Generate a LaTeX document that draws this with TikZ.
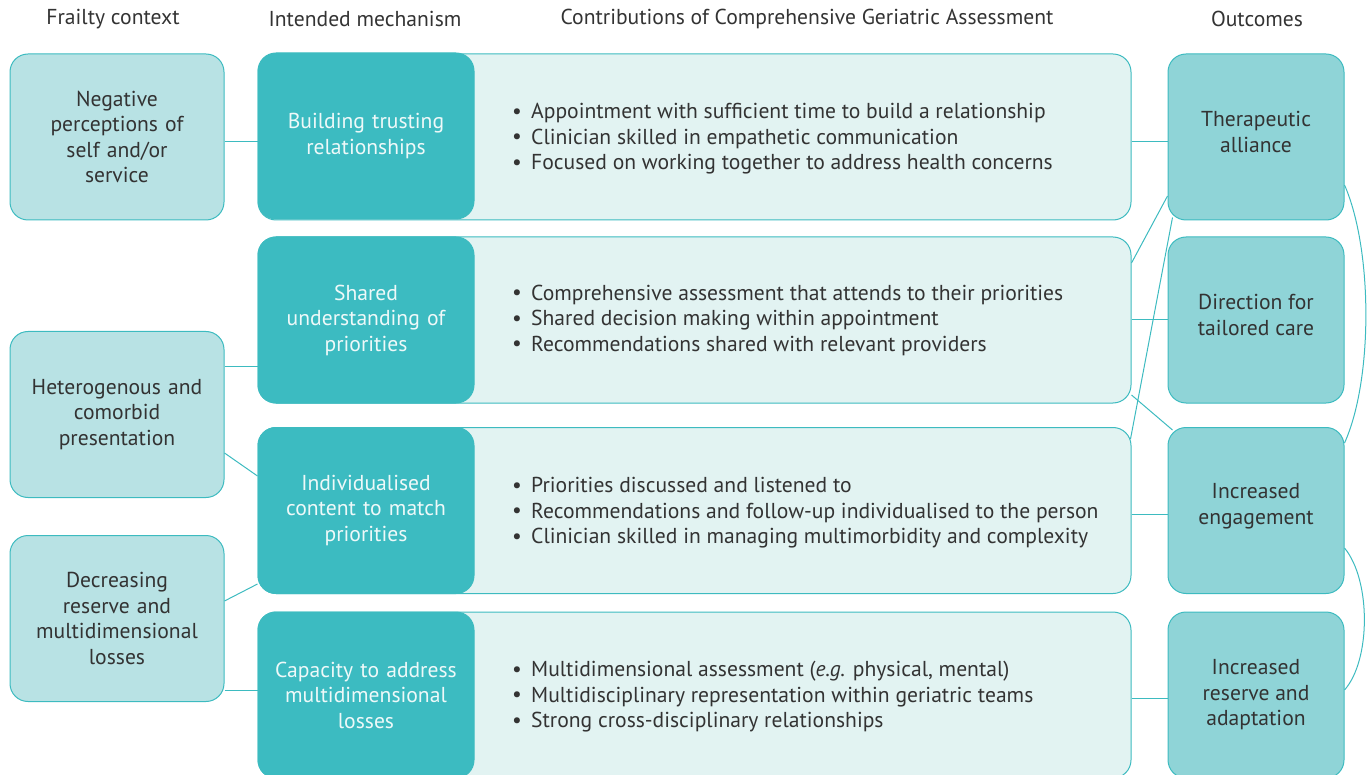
\documentclass[tikz,border=0pt]{standalone}
\usepackage{fontspec}
\setmainfont{PT Sans}
\usetikzlibrary{calc}
\definecolor{edge}{HTML}{3DBBC0}
\definecolor{ctxfill}{HTML}{B8E2E4}
\definecolor{mechfill}{HTML}{3CBBC1}
\definecolor{contfill}{HTML}{E2F3F2}
\definecolor{outfill}{HTML}{8FD4D7}
\definecolor{ink}{HTML}{333333}
\definecolor{mechink}{HTML}{EEF9F9}
\tikzset{
  base/.style={rounded corners=18pt, draw=edge, line width=1pt, align=center, inner sep=0pt,
    font=\fontsize{21.6}{25.5}\selectfont},
  ctx/.style={base, fill=ctxfill, text=ink, minimum width=214pt, minimum height=166pt, text width=206pt},
  mech/.style={base, fill=mechfill, text=mechink, minimum width=216pt, minimum height=166pt, text width=208pt},
  cont/.style={base, fill=contfill, minimum width=873pt, minimum height=166pt},
  outc/.style={base, fill=outfill, minimum width=176pt, minimum height=166pt},
  outtext/.style={text=ink, align=center, inner sep=0pt, font=\fontsize{21.6}{25.5}\selectfont},
  head/.style={text=ink, font=\fontsize{21.6}{24}\selectfont, inner sep=0pt},
  bul/.style={text=ink, font=\fontsize{21.6}{25.5}\selectfont, align=left, anchor=west, inner sep=0pt},
  link/.style={draw=edge, line width=1pt}
}
\newcommand{\bl}{\makebox[19pt][l]{\raisebox{0.5pt}{\textbullet}}}
\begin{document}
\begin{tikzpicture}[x=1pt,y=-1pt]
\useasboundingbox (0,0) rectangle (1370,775);
% headers
\node[head] (h1) at (113,19) {Frailty context};
\node[head] (h2) at (365,19) {Intended mechanism};
\node[head] (h3) at (807,19) {Contributions of Comprehensive Geriatric Assessment};
\node[head] (h4) at (1257,19) {Outcomes};
% context
\node[ctx] (neg) at (117,137) {Negative\\perceptions of\\self and/or\\service};
\node[ctx] (het) at (117,414.5) {Heterogenous and\\comorbid\\presentation};
\node[ctx] (dec) at (117,618.5) {Decreasing\\reserve and\\multidimensional\\losses};
% contributions (light)
\node[cont] (c1) at (694.5,137) {};
\node[cont] (c2) at (694.5,320) {};
\node[cont] (c3) at (694.5,510.5) {};
\node[cont] (c4) at (694.5,695) {};
% mechanisms (dark)
\node[mech] (m1) at (366,136) {Building trusting\\relationships};
\node[mech] (m2) at (366,320) {Shared\\understanding of\\priorities};
\node[mech] (m3) at (366,510.5) {Individualised\\content to match\\priorities};
\node[mech] (m4) at (366,695) {Capacity to address\\multidimensional\\losses};
% bullet texts
\node[bul] (t1) at (512,139) {\bl Appointment with sufficient time to build a relationship\\\bl Clinician skilled in empathetic communication\\\bl Focused on working together to address health concerns};
\node[bul] (t2) at (512,320) {\bl Comprehensive assessment that attends to their priorities\\\bl Shared decision making within appointment\\\bl Recommendations shared with relevant providers};
\node[bul] (t3) at (512,513) {\bl Priorities discussed and listened to\\\bl Recommendations and follow-up individualised to the person\\\bl Clinician skilled in managing multimorbidity and complexity};
\node[bul] (t4) at (512,697) {\bl Multidimensional assessment (\textit{e.g.} physical, mental)\\\bl Multidisciplinary representation within geriatric teams\\\bl Strong cross-disciplinary relationships};
% outcomes
\node[outc] (o1) at (1256,137) {};
\node[outc] (o2) at (1256,320) {};
\node[outc] (o3) at (1256,510.5) {};
\node[outc] (o4) at (1256,695) {};
\node[outtext] (o1t) at (1256,132) {Therapeutic\\alliance};
\node[outtext] (o2t) at (1256,315) {Direction for\\tailored care};
\node[outtext] (o3t) at (1256,506) {Increased\\engagement};
\node[outtext] (o4t) at (1256,695) {Increased\\reserve and\\adaptation};
% connectors left
\draw[link] ($(neg.east)+(0,5)$) -- ($(m1.west)+(0,6)$);
\draw[link] ($(het.east)+(0,-48.5)$) -- ($(m2.west)+(0,46)$);
\draw[link] ($(het.east)+(0,38.5)$) -- ($(m3.west)+(0,-34.5)$);
\draw[link] ($(dec.east)+(0,-17.5)$) -- ($(m3.west)+(0,73.5)$);
\draw[link] ($(dec.east)+(0,71.5)$) -- ($(m4.west)+(0,-5)$);
% connectors right
\draw[link] ($(c1.east)+(0,5)$) -- ($(o1.west)+(0,5)$);
\draw[link] ($(c2.east)+(0,-57)$) -- ($(o1.west)+(0,59)$);
\draw[link] (c2.east) -- (o2.west);
\draw[link] ($(c2.east)+(0,75)$) -- ($(o3.north west)+(5,3)$);
\draw[link] ($(c3.north east)+(-1,12)$) -- ($(o1.south west)+(5,-3)$);
\draw[link] ($(c3.east)+(0,3.5)$) -- ($(o3.west)+(0,3.5)$);
\draw[link] ($(c4.east)+(0,3)$) -- ($(o4.west)+(0,3)$);
% curves
\draw[link] ($(o1.east)+(0,48)$) .. controls (1373,250) and (1373,380) .. ($(o3.east)+(0,-67.5)$);
\draw[link] ($(o3.east)+(0,37.5)$) .. controls (1371,580) and (1371,660) .. ($(o4.east)+(0,-5)$);
\end{tikzpicture}
\end{document}
